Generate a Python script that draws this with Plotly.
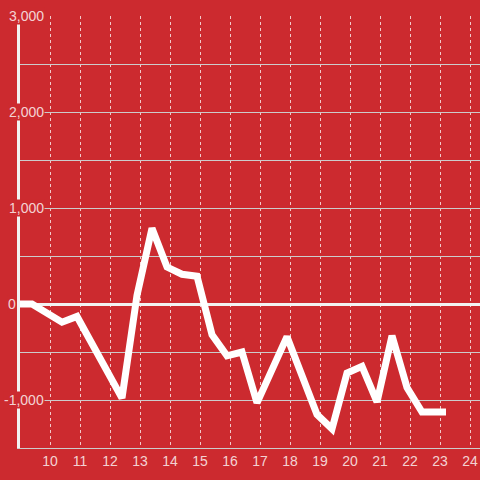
import plotly.graph_objects as go

# Data
x_vals = [8.9, 9.4, 10.4, 10.9, 12.4, 12.9, 13.4, 13.9, 14.4, 14.9, 15.4, 15.9, 16.4,
          16.9, 17.9, 18.4, 18.9, 19.4, 19.9, 20.4, 20.9, 21.4, 21.9, 22.4, 23.2]
y_vals = [0, 0, -190, -130, -980, 90, 790, 385, 310, 290, -320, -540, -500,
          -1030, -340, -740, -1150, -1300, -720, -650, -1020, -330, -870, -1125, -1125]

x_ticks = list(range(10, 25))
y_label_vals = [3000, 2000, 1000, 0, -1000]
y_label_text = ["3,000", "2,000", "1,000", "0", "-1,000"]

BG = "rgb(204,42,47)"
TXT = "rgba(255,255,255,0.8)"
FONT = "Liberation Sans, Arial, sans-serif"

fig = go.Figure()
fig.add_trace(go.Scatter(x=x_vals, y=y_vals, mode="lines",
                         line=dict(color="white", width=7),
                         hoverinfo="skip", showlegend=False))

annotations = []
for v, t in zip(y_label_vals, y_label_text):
    right_px = 17 if t == "0" else 45
    annotations.append(dict(
        xref="paper", yref="y", x=(right_px - 20) / 460, y=v,
        xanchor="right", yanchor="middle", text=t, showarrow=False,
        font=dict(family=FONT, size=14, color=TXT),
        bgcolor=BG, borderpad=0))

fig.update_layout(
    width=480, height=480,
    margin=dict(l=20, r=0, t=16, b=32),
    paper_bgcolor=BG, plot_bgcolor=BG,
    showlegend=False,
    annotations=annotations,
    xaxis=dict(range=[9, 9 + 460 / 30], tickvals=x_ticks,
               ticktext=[str(t) for t in x_ticks],
               showgrid=True, gridcolor="rgba(255,255,255,0.75)", gridwidth=1, griddash="dot",
               zeroline=False, showline=True, linecolor="#cccccc", linewidth=1,
               ticks="", tickfont=dict(family=FONT, size=14, color=TXT),
               automargin=False, fixedrange=True),
    yaxis=dict(range=[-1500, 3000], tickvals=[3000, 2500, 2000, 1500, 1000, 500, 0, -500, -1000, -1500],
               showticklabels=False, showgrid=True, gridcolor="#cccccc", gridwidth=1,
               zeroline=True, zerolinecolor="#f2f2f2", zerolinewidth=3,
               showline=True, linecolor="#f2f2f2", linewidth=3, ticks="",
               automargin=False, fixedrange=True),
)

fig.write_html("out.html", config={"displayModeBar": False},
               post_script="document.body.style.margin='0';document.body.style.background='" + BG + "';")
